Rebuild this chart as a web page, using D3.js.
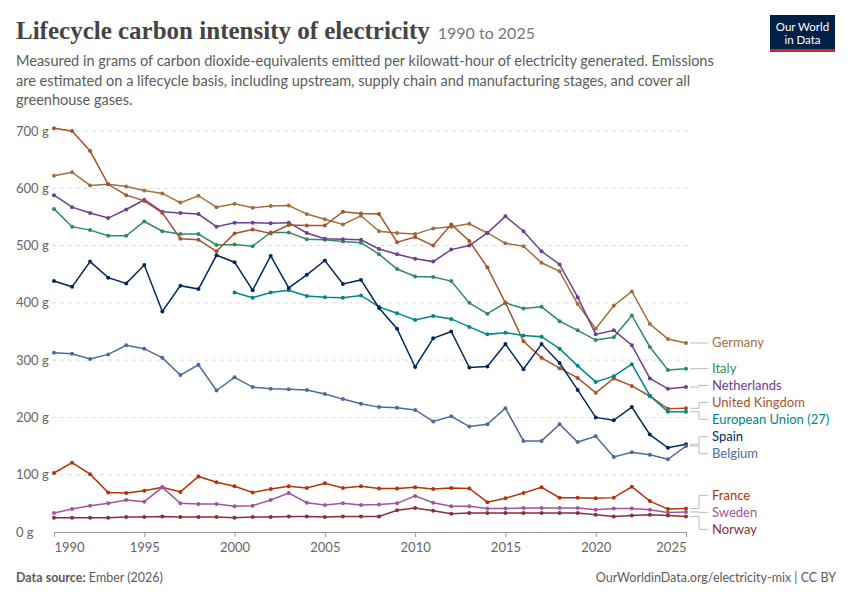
<!DOCTYPE html>
<html>
<head>
<meta charset="utf-8">
<script src="https://cdn.jsdelivr.net/npm/d3@7"></script>
<style>
  body { margin: 0; background: #fff; font-family: Lato, "Noto Sans", sans-serif; }
</style>
</head>
<body>
<svg id="chart" width="850" height="600"></svg>
<script>
const years = d3.range(1990, 2026);
const yTicks = [0, 100, 200, 300, 400, 500, 600, 700];
const xTicks = [1990, 1995, 2000, 2005, 2010, 2015, 2020, 2025];

const germany = [622,628,605,607,603,596,591,575,587,567,573,566,569,570,555,546,537,552,525,522,520,530,533,538,522,504,499,470,455,398,355,395,420,363,337,330];
const uk = [705,700,665,607,588,578,557,512,510,490,521,528,521,536,535,535,559,556,555,506,515,500,537,508,462,400,333,304,286,269,243,268,255,237,215,216];
const netherlands = [588,567,557,548,563,580,559,557,555,533,540,540,539,540,522,512,511,510,494,485,477,472,493,500,522,551,525,490,467,410,345,352,326,268,250,253];
const italy = [564,533,527,517,517,542,525,520,520,501,502,499,523,523,511,510,507,505,485,459,446,445,438,400,381,400,390,393,368,352,335,340,378,323,283,285];
const spain = [438,428,472,444,434,466,385,430,424,483,471,422,482,426,449,474,433,440,391,355,288,338,350,287,289,328,284,328,295,248,200,195,218,170,147,153];
const eu27 = [null,null,null,null,null,null,null,null,null,null,418,409,418,422,412,410,409,413,393,382,370,377,372,358,345,348,343,341,320,290,262,272,293,238,210,210];
const belgium = [313,311,302,310,326,320,304,274,292,247,270,253,250,249,248,241,232,224,218,217,213,193,202,184,188,216,159,159,188,157,167,131,139,135,127,150];
const france = [103,121,101,69,68,72,78,70,97,87,80,69,75,80,77,85,77,80,76,76,78,75,77,76,52,59,68,78,60,60,59,60,79,54,40,41];
const sweden = [33,40,46,50,56,53,78,50,49,49,45,46,56,68,51,47,50,47,48,50,63,51,45,45,41,41,42,42,42,42,39,41,41,39,34,35];
const norway = [25,25,25,25,26,26,27,26,26,26,25,26,26,27,27,26,27,27,27,38,42,37,32,33,33,33,33,33,33,33,30,27,29,30,29,27];

const series = [
  { name: "Germany", values: germany, color: "#a2703a" },
  { name: "Italy", values: italy, color: "#2e8a65" },
  { name: "Netherlands", values: netherlands, color: "#6d3e91" },
  { name: "United Kingdom", values: uk, color: "#a8532b" },
  { name: "European Union (27)", values: eu27, color: "#00858a" },
  { name: "Spain", values: spain, color: "#00295b" },
  { name: "Belgium", values: belgium, color: "#4c6a9c" },
  { name: "France", values: france, color: "#b13507" },
  { name: "Sweden", values: sweden, color: "#a2559c" },
  { name: "Norway", values: norway, color: "#883039" }
];

const svg = d3.select("#chart");
const x = d3.scaleLinear().domain([1990, 2025]).range([54, 686]);
const y = d3.scaleLinear().domain([0, 700]).range([532, 131]);

// header
svg.append("text").attr("x", 16).attr("y", 39)
  .style("font-family", "'Liberation Serif', 'DejaVu Serif', serif").style("font-size", "25px").style("font-weight", "bold").style("fill", "#444")
  .text("Lifecycle carbon intensity of electricity")
  .append("tspan").attr("dx", 8).style("font-family", "Lato, sans-serif").style("font-weight", "normal").style("font-size", "16px").style("fill", "#777").text("1990 to 2025");

const sub = ["Measured in grams of carbon dioxide-equivalents emitted per kilowatt-hour of electricity generated. Emissions",
  "are estimated on a lifecycle basis, including upstream, supply chain and manufacturing stages, and cover all",
  "greenhouse gases."];
sub.forEach((s, i) => svg.append("text").attr("x", 16).attr("y", 66 + i * 19.5)
  .style("font-size", "14.5px").style("fill", "#5b5b5b").text(s));

// logo
svg.append("rect").attr("x", 770).attr("y", 15).attr("width", 65).attr("height", 37).attr("fill", "#002147");
svg.append("rect").attr("x", 770).attr("y", 49).attr("width", 65).attr("height", 3).attr("fill", "#ce261e");
svg.append("text").attr("x", 802.5).attr("y", 31).attr("text-anchor", "middle").style("font-size", "11.5px").style("fill", "#fff").text("Our World");
svg.append("text").attr("x", 802.5).attr("y", 44).attr("text-anchor", "middle").style("font-size", "11.5px").style("fill", "#fff").text("in Data");

// grid + y labels
yTicks.forEach(t => {
  if (t > 0) svg.append("line").attr("x1", 52).attr("x2", 690).attr("y1", y(t)).attr("y2", y(t))
    .attr("stroke", "#ddd").attr("stroke-dasharray", "4,4");
  svg.append("text").attr("x", 16).attr("y", y(t) + 4.5).style("font-size", "13px").style("fill", "#666").text(t + " g");
});

// x axis
const xAxis = svg.append("g").attr("transform", "translate(0,532)")
  .call(d3.axisBottom(x).tickValues(xTicks).tickFormat(d3.format("d")).tickSize(5));
xAxis.select(".domain").attr("stroke", "#999");
xAxis.selectAll(".tick line").attr("stroke", "#999");
xAxis.selectAll("text").style("font-size", "13px").style("fill", "#666").style("font-family", "Lato, sans-serif").attr("dy", "0.9em");
xAxis.selectAll(".tick text").filter(d => d === 1990).attr("text-anchor", "start").attr("dx", "0");
xAxis.selectAll(".tick text").filter(d => d === 2025).attr("text-anchor", "end").attr("dx", "0");

// lines
const line = d3.line().defined(d => d[1] != null).x(d => x(d[0])).y(d => y(d[1]));
series.forEach(s => {
  const pts = years.map((yr, i) => [yr, s.values[i]]);
  svg.append("path").datum(pts).attr("d", line).attr("fill", "none")
    .attr("stroke", s.color).attr("stroke-width", 1.5);
  svg.selectAll(null).data(pts.filter(d => d[1] != null)).enter().append("circle")
    .attr("cx", d => x(d[0])).attr("cy", d => y(d[1])).attr("r", 2).attr("fill", s.color);
});

// labels with simple collision avoidance
const labs = series.map(s => ({ s, target: y(s.values[s.values.length - 1]) }));
labs.sort((a, b) => a.target - b.target);
labs.forEach(l => l.pos = l.target);
for (let it = 0; it < 200; it++) {
  for (let i = 1; i < labs.length; i++) {
    const gap = labs[i].pos - labs[i - 1].pos;
    if (gap < 17) { const d = (17 - gap) / 2; labs[i].pos += d; labs[i - 1].pos -= d; }
  }
}
labs.forEach(l => {
  svg.append("path").attr("d", `M690,${l.target}H699V${l.pos}H708`).attr("fill", "none").attr("stroke", "#bbb");
  svg.append("text").attr("x", 712).attr("y", l.pos + 4.5).style("font-size", "13px").style("fill", l.s.color).text(l.s.name);
});

// footer
svg.append("text").attr("x", 16).attr("y", 582).style("font-size", "12.5px").style("fill", "#5b5b5b")
  .html('<tspan font-weight="bold">Data source:</tspan> Ember (2026)');
svg.append("text").attr("x", 836).attr("y", 582).attr("text-anchor", "end").style("font-size", "12.5px").style("fill", "#5b5b5b")
  .text("OurWorldinData.org/electricity-mix | CC BY");
</script>
</body>
</html>
